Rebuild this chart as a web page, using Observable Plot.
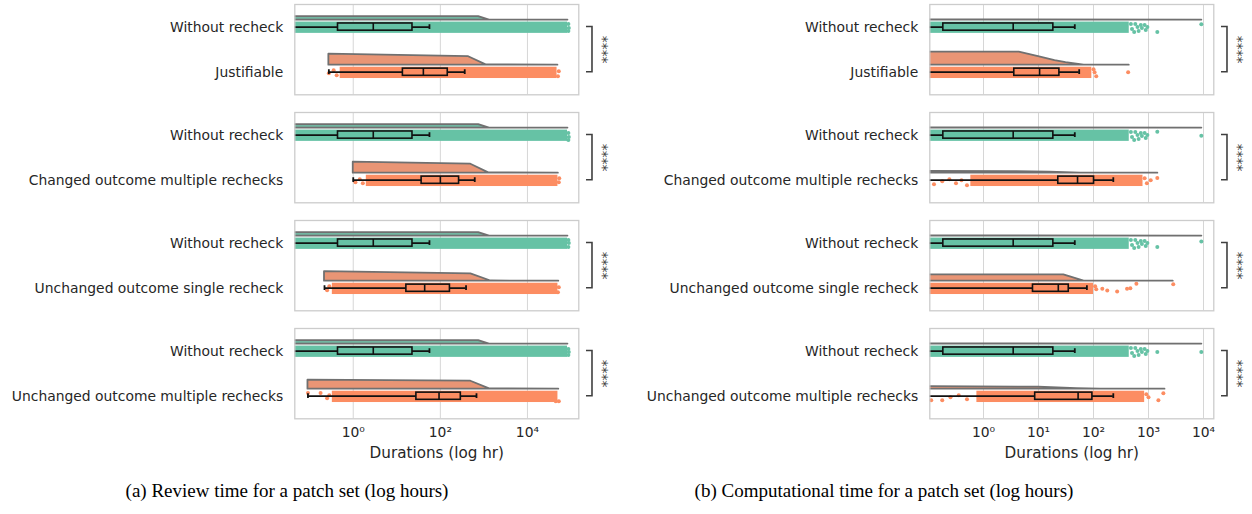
<!DOCTYPE html>
<html><head><meta charset="utf-8">
<script src="https://cdn.jsdelivr.net/npm/d3@7"></script>
<script src="https://cdn.jsdelivr.net/npm/@observablehq/plot@0.6"></script>
<style>
body{margin:0;background:#fff;}
#fig{position:relative;width:1252px;height:514px;overflow:hidden;background:#fff;}
#fig svg{position:absolute;overflow:visible;}
.cap{position:absolute;font-family:"Liberation Serif","Times New Roman",serif;font-size:19px;color:#000;white-space:nowrap;transform:translateX(-50%);line-height:1;}
</style></head><body><div id="fig"></div>
<script>
// ---------- text ----------
const baseLabel = "Without recheck";
const groupLabels = ["Justifiable", "Changed outcome multiple rechecks", "Unchanged outcome single recheck", "Unchanged outcome multiple rechecks"];
const sigText = "****";
const axisLabel = "Durations (log hr)";
const captions = ["(a) Review time for a patch set (log hours)", "(b) Computational time for a patch set (log hours)"];

// ---------- colours ----------
const colorBase = "#66c2a5", colorGroup = "#fc8d62";
const violinBaseFill = "#72b6a1", violinGroupFill = "#e99575";

// ---------- (a) review time, values are log10(hours) ----------
const reviewTicks = [1, 100, 10000];
const reviewDomainLog = [-1.342, 5.179];
// box stats: [whisker low, q1, median, q3, whisker high]
const reviewBaseBox = [-1.6, -0.35, 0.46, 1.36, 1.75];
const reviewBox = [
  [-0.56, 1.14, 1.61, 2.17, 2.56],
  [0.0, 1.57, 2.0, 2.43, 2.79],
  [-0.66, 1.22, 1.64, 2.22, 2.59],
  [-1.04, 1.45, 1.97, 2.47, 2.83]
];
// dense rain extent [low, high]
const reviewBaseDense = [-1.6, 4.92];
const reviewDense = [[-0.3, 4.68], [0.3, 4.7], [-0.48, 4.7], [-0.48, 4.7]];
// sparse rain points [log10 value, vertical jitter]
const reviewBaseSparse = [
  [[4.94, -3], [4.95, 1], [4.94, 4]],
  [[4.94, -2], [4.95, 2], [4.94, 5]],
  [[4.94, -3], [4.95, 0], [4.94, 4]],
  [[4.94, -2], [4.95, 1], [4.94, 4]]
];
const reviewSparse = [
  [[-0.56, 1], [-0.45, -2], [-0.38, 3], [4.7, 4], [4.72, -1]],
  [[0.05, 2], [0.15, -1], [0.22, 3], [4.72, 2], [4.73, -2]],
  [[-0.6, 2], [-0.55, -2], [4.7, 4], [4.72, -1]],
  [[-1.04, -3.3], [-0.75, -3.3], [-0.6, 2], [-0.55, -1], [4.65, 5], [4.72, 5]]
];
// half-violin profile [log10 value, density]
const reviewBaseViolin = [[-1.6, 3.5], [2.88, 3.5], [3.13, 0], [4.93, 0]];
const reviewViolin = [
  [[-0.56, 11], [2.65, 8.5], [3.05, 0.3], [4.7, 0]],
  [[0.0, 11], [2.7, 9], [3.11, 0.3], [4.71, 0]],
  [[-0.66, 9.5], [2.7, 7.3], [3.16, 0.2], [4.72, 0]],
  [[-1.04, 9], [2.7, 8], [3.13, 0.3], [4.72, 0]]
];

// ---------- (b) computational time ----------
const computeTicks = [1, 10, 100, 1000, 10000];
const computeDomainLog = [-0.976, 4.187];
const computeBaseBox = [-1.3, -0.73, 0.54, 1.27, 1.66];
const computeBox = [
  [-1.3, 0.56, 1.02, 1.38, 1.74],
  [-1.3, 1.36, 1.71, 2.01, 2.36],
  [-1.3, 0.90, 1.36, 1.55, 1.88],
  [-1.3, 0.94, 1.72, 1.98, 2.36]
];
const computeBaseDense = [-1.3, 2.65];
const computeDense = [[-1.3, 1.97], [-0.23, 2.9], [-1.3, 2.0], [-0.12, 2.93]];
const computeBaseSparseCommon = [[2.68, -3], [2.7, 2], [2.74, 5], [2.76, -3], [2.8, 0], [2.82, 4], [2.86, -2], [2.88, 1], [2.93, -2], [2.95, 3], [2.98, 0]];
const computeBaseOutliers = [
  [[3.16, 5], [3.96, -2.7]],
  [[3.16, -3.3], [3.96, 0.7]],
  [[3.16, 4], [3.96, -1.6]],
  [[3.16, 1], [3.96, 1]]
];
const computeSparse = [
  [[2.0, -3], [2.02, 0], [2.05, 4], [2.63, 0]],
  [[-0.9, 4], [-0.75, 1], [-0.62, -1], [-0.5, 3], [-0.4, 0], [-0.3, 5], [2.93, -2], [2.97, 3], [3.04, 0], [3.16, -2.3]],
  [[2.03, -2], [2.05, 1], [2.16, 0.6], [2.25, 2.3], [2.43, 3.3], [2.61, 0.6], [2.67, 0], [2.78, -4.4], [3.45, -4]],
  [[-0.95, 4], [-0.75, 4], [-0.6, 1], [-0.45, -1], [-0.3, 3], [2.96, -2], [3.0, 1], [3.18, 4], [3.27, -3]]
];
const computeBaseViolin = [[-1.3, 0.3], [3.97, 0]];
const computeViolin = [
  [[-1.3, 13], [0.65, 13], [1.0, 8.5], [1.3, 4.5], [1.5, 2.5], [1.83, 0], [2.65, 0]],
  [[-1.3, 2], [0.5, 1.6], [1.2, 1.0], [1.77, 0], [3.17, 0]],
  [[-1.3, 6.4], [1.46, 6.4], [1.83, 0], [3.45, 0]],
  [[-1.3, 2.6], [1.0, 2.0], [1.7, 0.5], [2.13, 0], [3.3, 0]]
];

// ---------- panel configs built from the arrays ----------
const panels = [
  {left: 0, width: 620, ml: 294.3, mr: 41.7, ticks: reviewTicks, dom: reviewDomainLog,
   baseBox: reviewBaseBox, box: reviewBox, baseDense: reviewBaseDense, dense: reviewDense,
   baseSparse: reviewBaseSparse, sparse: reviewSparse, baseViolin: reviewBaseViolin, violin: reviewViolin, capX: 287},
  {left: 620, width: 632, ml: 309.3, mr: 38.7, ticks: computeTicks, dom: computeDomainLog,
   baseBox: computeBaseBox, box: computeBox, baseDense: computeBaseDense, dense: computeDense,
   baseSparse: computeBaseOutliers.map(o => computeBaseSparseCommon.concat(o)), sparse: computeSparse,
   baseViolin: computeBaseViolin, violin: computeViolin, capX: 884}
];

const FRAME_TOP0 = 4.3, FRAME_STEP = 107.85, FRAME_H = 90.3;
const sup = {"0": "\u2070", "1": "\u00b9", "2": "\u00b2", "3": "\u00b3", "4": "\u2074"};
const fmt = v => "10" + sup[String(Math.round(Math.log10(v)))];
const ink = "#262626";

function makeSubplot(P, i, bottom) {
  const mt = 4, mb = bottom ? 60 : 4;
  const ppu = FRAME_H / 2;
  const off = px => px / ppu;
  const rows = [
    {row: 0, label: baseLabel, color: colorBase, vfill: violinBaseFill, box: P.baseBox, dense: P.baseDense, sparse: P.baseSparse[i], violin: P.baseViolin},
    {row: 1, label: groupLabels[i], color: colorGroup, vfill: violinGroupFill, box: P.box[i], dense: P.dense[i], sparse: P.sparse[i], violin: P.violin[i]}
  ];
  const marks = [Plot.ruleX(P.ticks, {stroke: "#d6d6d6", strokeWidth: 1})];
  for (const r of rows) {
    const base = r.row - off(7);
    marks.push(Plot.areaY(r.violin, {x: d => 10 ** d[0], y1: () => base, y2: d => base - off(d[1]),
      fill: r.vfill, stroke: "#707070", strokeWidth: 1.8, strokeLinejoin: "round", clip: true}));
    marks.push(Plot.rect([r.dense], {x1: d => 10 ** d[0], x2: d => 10 ** d[1],
      y1: () => r.row - off(5), y2: () => r.row + off(6.3), fill: r.color, clip: true}));
    marks.push(Plot.dot(r.sparse, {x: d => 10 ** d[0], y: d => r.row + off(d[1]), r: 2, fill: r.color, stroke: "none", clip: true}));
    const b = r.box;
    marks.push(Plot.ruleY([b], {y: () => r.row, x1: d => 10 ** d[0], x2: d => 10 ** d[1], stroke: "#111", strokeWidth: 1.8, clip: true}));
    marks.push(Plot.ruleY([b], {y: () => r.row, x1: d => 10 ** d[3], x2: d => 10 ** d[4], stroke: "#111", strokeWidth: 1.8, clip: true}));
    marks.push(Plot.ruleX([b[0], b[4]], {x: d => 10 ** d, y1: () => r.row - off(2.4), y2: () => r.row + off(2.4), stroke: "#111", strokeWidth: 1.8, clip: true}));
    marks.push(Plot.rect([b], {x1: d => 10 ** d[1], x2: d => 10 ** d[3], y1: () => r.row - off(3.6), y2: () => r.row + off(3.6),
      fill: r.color, stroke: "#111", strokeWidth: 1.6}));
    marks.push(Plot.ruleX([b], {x: d => 10 ** d[2], y1: () => r.row - off(3.6), y2: () => r.row + off(3.6), stroke: "#111", strokeWidth: 1.6}));
  }
  marks.push(Plot.frame({stroke: "#cccccc", strokeWidth: 1.3}));
  marks.push(Plot.text(rows, {y: "row", text: "label", frameAnchor: "left", textAnchor: "end", dx: -11.6, fontSize: 13.9, fill: ink}));
  // significance bracket
  marks.push((index, scales, values, dims) => {
    const xr = dims.width - dims.marginRight;
    const ya = scales.y(0), yb = scales.y(1);
    const p = document.createElementNS("http://www.w3.org/2000/svg", "path");
    p.setAttribute("d", `M${xr + 7.7},${ya}H${xr + 13.7}V${yb}H${xr + 7.7}`);
    p.setAttribute("fill", "none");
    p.setAttribute("stroke", "#404040");
    p.setAttribute("stroke-width", 1.6);
    return p;
  });
  marks.push(Plot.text([sigText], {y: () => 0.5, frameAnchor: "right", textAnchor: "middle", lineAnchor: "middle",
    dx: 24, rotate: 90, fontSize: 13.9, fill: "#404040"}));
  if (bottom) {
    marks.push(Plot.text(P.ticks, {x: d => d, text: fmt, frameAnchor: "bottom", textAnchor: "middle", dy: 18.1, fontSize: 13.9, fill: ink}));
    marks.push(Plot.text([axisLabel], {frameAnchor: "bottom", textAnchor: "middle", dy: 38.9, fontSize: 15.2, fill: ink}));
  }
  const svg = Plot.plot({
    width: P.width, height: mt + FRAME_H + mb,
    marginLeft: P.ml, marginRight: P.mr, marginTop: mt, marginBottom: mb,
    x: {type: "log", domain: [10 ** P.dom[0], 10 ** P.dom[1]], axis: null},
    y: {domain: [1.5, -0.5], axis: null},
    style: {fontFamily: "DejaVu Sans", background: "transparent", overflow: "visible"},
    marks
  });
  svg.style.left = P.left + "px";
  svg.style.top = (FRAME_TOP0 + i * FRAME_STEP - mt) + "px";
  svg.style.maxWidth = "none";
  return svg;
}

const fig = document.getElementById("fig");
panels.forEach((P, k) => {
  for (let i = 0; i < 4; i++) fig.appendChild(makeSubplot(P, i, i === 3));
  const c = document.createElement("div");
  c.className = "cap";
  c.textContent = captions[k];
  c.style.left = P.capX + "px";
  c.style.top = "481px";
  fig.appendChild(c);
});
</script></body></html>
